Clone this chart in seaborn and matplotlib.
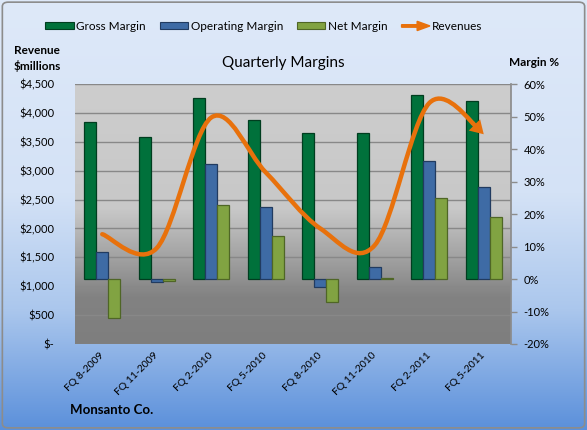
import numpy as np
import pandas as pd
import matplotlib
matplotlib.use("Agg")
import matplotlib.pyplot as plt
import seaborn as sns
from matplotlib.path import Path
from matplotlib.patches import FancyArrowPatch, FancyArrow, Patch, FancyBboxPatch, PathPatch
from matplotlib.legend_handler import HandlerPatch
from matplotlib.colors import LinearSegmentedColormap

quarters = ["FQ 8-2009", "FQ 11-2009", "FQ 2-2010", "FQ 5-2010",
            "FQ 8-2010", "FQ 11-2010", "FQ 2-2011", "FQ 5-2011"]
gross_margin = [48.2, 43.7, 55.8, 48.9, 45.0, 45.0, 56.5, 54.8]
operating_margin = [8.4, -0.8, 35.3, 22.1, -2.4, 3.6, 36.4, 28.3]
net_margin = [-12.0, -0.5, 22.9, 13.1, -7.0, 0.2, 24.9, 19.0]
revenues = [1900, 1660, 3920, 2970, 2000, 1710, 4170, 3630]

series_names = ["Gross Margin", "Operating Margin", "Net Margin"]
bar_colors = ["#00713b", "#3e6ba5", "#81a342"]
edge_colors = ["#003d1f", "#213b60", "#4f6626"]
line_color = "#e8710c"

sns.set_theme(style="white")
plt.rcParams["font.family"] = ["Lato", "DejaVu Sans"]
plt.rcParams["text.color"] = "black"
plt.rcParams["xtick.color"] = "black"
plt.rcParams["ytick.color"] = "black"

fig = plt.figure(figsize=(5.87, 4.30), dpi=100)

# blue gradient background with rounded border
bg = fig.add_axes([0, 0, 1, 1], zorder=-10)
bg_cmap = LinearSegmentedColormap.from_list(
    "bg", [(0, "#dee9f9"), (0.45, "#d4e2f6"), (0.72, "#abc7ed"), (1, "#5b90db")])
bg.imshow(np.linspace(0, 1, 256).reshape(-1, 1), cmap=bg_cmap, aspect="auto",
          extent=[0, 1, 0, 1], origin="upper")
bg.add_patch(FancyBboxPatch((0.004, 0.005), 0.992, 0.99, boxstyle="round,pad=0,rounding_size=0.01",
                            facecolor="none", edgecolor="#8c8c8c", linewidth=1.2,
                            transform=bg.transAxes))
bg.set_xlim(0, 1)
bg.set_ylim(0, 1)
bg.set_axis_off()

# revenue axis (left) holds the grey plot area and gridlines
ax = fig.add_axes([75 / 587, 1 - 344 / 430, 436 / 587, 260 / 430])
plot_cmap = LinearSegmentedColormap.from_list(
    "plot", [(0, "#cdcdcd"), (0.48, "#c8c8c8"), (0.56, "#b8b8b8"), (0.82, "#828282"), (1, "#7e7e7e")])
ax.imshow(np.linspace(0, 1, 256).reshape(-1, 1), cmap=plot_cmap, aspect="auto",
          extent=[0, 1, 0, 1], origin="upper", transform=ax.transAxes, zorder=0)
ax.set_ylim(0, 4500)
ax.set_yticks(range(0, 4501, 500))
ax.set_yticklabels(["$-" if v == 0 else f"${v:,}" for v in range(0, 4501, 500)], fontsize=8)
ax.grid(axis="y", color="#888888", linewidth=1)
ax.set_axisbelow(True)
ax.tick_params(axis="y", length=0, pad=15)
for s in ax.spines.values():
    s.set_visible(False)

# margin axis (right) holds the bars
ax2 = ax.twinx()
df = pd.DataFrame({
    "quarter": quarters * 3,
    "series": np.repeat(series_names, len(quarters)),
    "margin": gross_margin + operating_margin + net_margin,
})
sns.barplot(data=df, x="quarter", y="margin", hue="series", palette=bar_colors,
            width=0.66, saturation=1, ax=ax2, legend=False, linewidth=0.9)
for container, ec in zip(ax2.containers, edge_colors):
    for bar in container:
        bar.set_edgecolor(ec)
ax2.set_ylim(-20, 60)
ax2.set_yticks(range(-20, 61, 10))
ax2.set_yticklabels([f"{v}%" for v in range(-20, 61, 10)], fontsize=8)
ax2.tick_params(axis="y", direction="out", length=4, width=1, color="#8c8c8c", pad=5)
ax2.set_ylabel("")
for s in ax2.spines.values():
    s.set_visible(False)
ax2.spines["right"].set_visible(True)
ax2.spines["right"].set_color("#8c8c8c")

ax.set_xlim(-0.5, len(quarters) - 0.5)
ax.set_xticks(range(len(quarters)))
ax.set_xticklabels(quarters, rotation=45, ha="right", va="center",
                   rotation_mode="anchor", fontsize=7.5)
ax.tick_params(axis="x", length=0, pad=7)
ax.set_xlabel("")

# smoothed revenue line (bezier through the points) ending in an arrow head
pts = np.column_stack([np.arange(len(revenues)), revenues]).astype(float)
n = len(pts)
segs = []
for i in range(n - 1):
    p0, p1, p2, p3 = pts[max(i - 1, 0)], pts[i], pts[i + 1], pts[min(i + 2, n - 1)]
    segs.append((p1, p1 + (p2 - p0) / 6, p2 - (p3 - p1) / 6, p2))

# cut the last segment so the head sits at the final point
b0, b1, b2, b3 = segs[-1]
t = 0.72
qa = b0 + (b1 - b0) * t
qb = b1 + (b2 - b1) * t
qc = b2 + (b3 - b2) * t
qd = qa + (qb - qa) * t
qe = qb + (qc - qb) * t
split = qd + (qe - qd) * t
segs[-1] = (b0, qa, qd, split)

verts = [segs[0][0]]
codes = [Path.MOVETO]
for s0, c1, c2, s1 in segs:
    verts += [c1, c2, s1]
    codes += [Path.CURVE4] * 3
ax2.add_patch(PathPatch(Path(verts, codes), facecolor="none", edgecolor=line_color,
                        linewidth=3.2, capstyle="round", transform=ax.transData, zorder=5))
ax2.add_patch(FancyArrowPatch(posA=tuple(split), posB=tuple(b3),
                              arrowstyle="simple,head_length=0.95,head_width=1.15,tail_width=0.32",
                              mutation_scale=10, color=line_color, linewidth=0,
                              shrinkA=0, shrinkB=0, transform=ax.transData, zorder=6))

# legend
def make_arrow(legend, orig_handle, xdescent, ydescent, width, height, fontsize):
    return FancyArrow(0, 0.5 * height, width, 0, width=0.35 * height,
                      length_includes_head=True, head_width=1.3 * height,
                      head_length=0.45 * width)

handles = [Patch(facecolor=c, edgecolor=e, linewidth=0.8) for c, e in zip(bar_colors, edge_colors)]
arrow_handle = Patch(facecolor=line_color, edgecolor=line_color)
handles.append(arrow_handle)
fig.legend(handles, series_names + ["Revenues"], loc="center",
           bbox_to_anchor=(264 / 587, 1 - 26 / 430), ncol=4, frameon=False,
           fontsize=8.5, handlelength=2.4, handleheight=0.55, columnspacing=1.2,
           handletextpad=0.2,
           handler_map={arrow_handle: HandlerPatch(patch_func=make_arrow)})

fig.text(283 / 587, 1 - 63 / 430, "Quarterly Margins", ha="center", va="center", fontsize=11)
fig.text(14 / 587, 1 - 59 / 430, "Revenue\n$millions", ha="left", va="center",
         fontsize=8.5, fontweight="bold", linespacing=1.4)
fig.text(534 / 587, 1 - 62 / 430, "Margin %", ha="center", va="center",
         fontsize=8.5, fontweight="bold")
fig.text(70 / 587, 1 - 410 / 430, "Monsanto Co.", ha="left", va="center",
         fontsize=9.5, fontweight="bold")

fig.savefig("out.png", dpi=100)
